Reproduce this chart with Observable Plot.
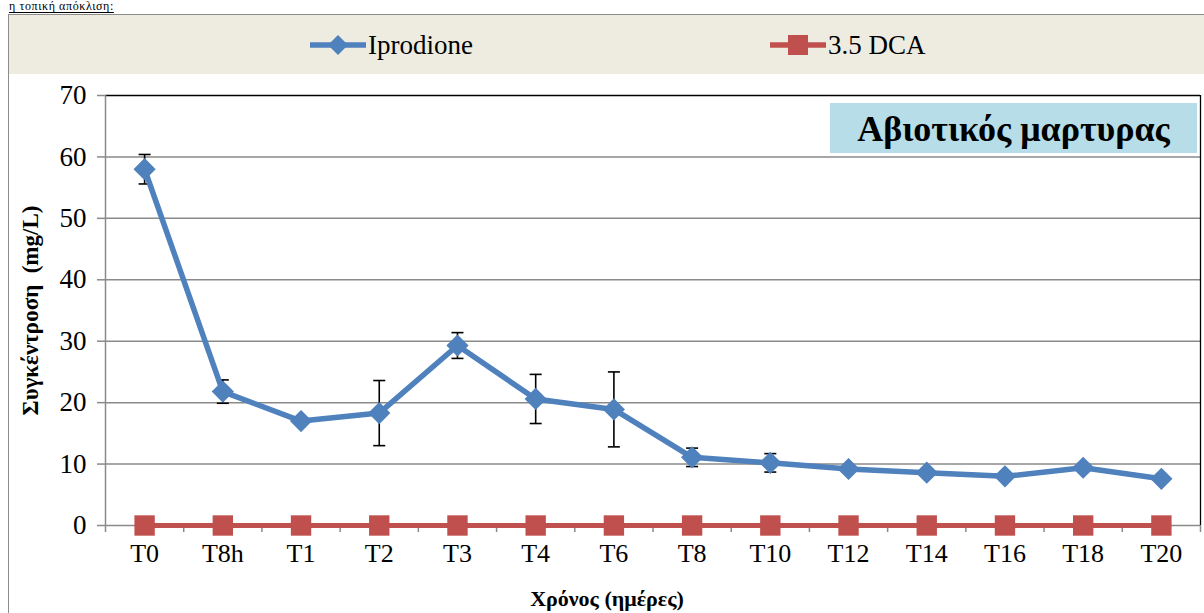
<!DOCTYPE html>
<html>
<head>
<meta charset="utf-8">
<script src="https://cdn.jsdelivr.net/npm/d3@7"></script>
<script src="https://cdn.jsdelivr.net/npm/@observablehq/plot@0.6"></script>
<style>
  html, body { margin: 0; padding: 0; background: #fff; }
  body { width: 1204px; height: 613px; overflow: hidden; position: relative; }
  #frame { position: absolute; left: 8px; top: 14px; width: 1210px; height: 620px; border: 1px solid #8c8c8c; box-sizing: border-box; }
  #legend { position: absolute; left: 9px; top: 15px; width: 1200px; height: 59px; background: #EEECE1; }
  #chart { position: absolute; left: 9px; top: 75px; }
  svg text { font-family: "Liberation Serif", "Times New Roman", Times, serif; }
</style>
</head>
<body>
<svg id="note" width="300" height="14" style="position:absolute;left:0;top:0">
  <text x="9" y="10" font-size="12" letter-spacing="0.6" text-decoration="underline" fill="#000">η τοπική απόκλιση:</text>
  <line x1="9" x2="150" y1="12.5" y2="12.5" stroke="#000" stroke-width="1" id="noteline"/>
</svg>
<div id="frame"></div>
<div id="legend"></div>
<div id="chart"></div>
<svg id="title" width="367" height="50" style="position:absolute;left:830px;top:103px">
  <rect x="0" y="0" width="367" height="50" fill="#B7DDE8"/>
  <text x="183.5" y="25" dy="0.35em" text-anchor="middle" font-weight="bold" font-size="36" fill="#000">Αβιοτικός μαρτυρας</text>
</svg>
<script>
const categories = ["T0","T8h","T1","T2","T3","T4","T6","T8","T10","T12","T14","T16","T18","T20"];
const iprodione = [58.0, 21.8, 17.0, 18.3, 29.3, 20.6, 18.9, 11.1, 10.2, 9.2, 8.6, 8.0, 9.4, 7.6];
const iprodioneErr = [2.4, 1.9, 0, 5.3, 2.1, 4.0, 6.1, 1.5, 1.5, 0, 0, 0, 0, 0];
const dca = [0, 0, 0, 0, 0, 0, 0, 0, 0, 0, 0, 0, 0, 0];
const yTicks = [0, 10, 20, 30, 40, 50, 60, 70];
const seriesNames = ["Iprodione", "3.5 DCA"];
const seriesColors = ["#4F81BD", "#C0504D"];
const xTitle = "Χρόνος (ημέρες)";
const yTitle = "Συγκέντροση  (mg/L)";

const rows = categories.map((c, i) => ({i, c, ip: iprodione[i], err: iprodioneErr[i], dca: dca[i]}));
const withErr = rows.filter(d => d.err > 0);
const idx = categories.map((c, i) => i);
const halfs = [-0.5, ...idx.map(i => i + 0.5)];
const cap = {draw(ctx) { ctx.moveTo(-6, 0); ctx.lineTo(6, 0); }};
const grid = "#8a8a8a";
const serif = "'Liberation Serif', 'Times New Roman', Times, serif";

// underline length for note
const noteText = document.querySelector("#note text");
try { document.getElementById("noteline").setAttribute("x2", 9 + noteText.getComputedTextLength()); } catch (e) {}
noteText.removeAttribute("text-decoration");

const plot = Plot.plot({
  width: 1195,
  height: 538,
  marginLeft: 96,
  marginTop: 20,
  marginRight: 4,
  marginBottom: 88,
  x: {type: "linear", domain: [-0.5, categories.length - 0.5]},
  y: {domain: [0, 70]},
  style: {fontFamily: serif, background: "transparent", color: "#000", overflow: "visible"},
  marks: [
    Plot.ruleY(yTicks.filter(t => t > 0 && t < 70), {stroke: grid, strokeWidth: 1.5}),
    Plot.ruleY([70], {stroke: "#000", strokeWidth: 1.3}),
    Plot.ruleX([categories.length - 0.5], {stroke: "#000", strokeWidth: 1.3}),
    Plot.ruleX([-0.5], {stroke: grid, strokeWidth: 1.5}),
    Plot.ruleY([0], {stroke: grid, strokeWidth: 1.5}),
    Plot.axisY(yTicks, {tickSize: 8, tickPadding: 11, stroke: grid, strokeWidth: 1.5, fill: "#000", fontSize: 27, label: null, tickFormat: d => d}),
    Plot.axisX(halfs, {tickSize: 7, stroke: grid, strokeWidth: 1.5, fill: "none", label: null}),
    Plot.axisX(idx, {tickSize: 0, tickPadding: 18, fill: "#000", fontSize: 26, label: null, tickFormat: i => categories[i]}),
    Plot.text([xTitle], {text: d => d, frameAnchor: "bottom", textAnchor: "middle", dx: -46, dy: 80, fontWeight: "bold", fontSize: 22, fill: "#000"}),
    Plot.text([yTitle], {text: d => d, frameAnchor: "left", textAnchor: "middle", dx: -75, rotate: -90, fontWeight: "bold", fontSize: 23, fill: "#000"}),
    Plot.ruleX(withErr, {x: "i", y1: d => d.ip - d.err, y2: d => d.ip + d.err, stroke: "#000", strokeWidth: 1.6}),
    Plot.dot(withErr, {x: "i", y: d => d.ip + d.err, symbol: cap, stroke: "#000", fill: "none", strokeWidth: 1.6}),
    Plot.dot(withErr, {x: "i", y: d => d.ip - d.err, symbol: cap, stroke: "#000", fill: "none", strokeWidth: 1.6}),
    Plot.line(rows, {x: "i", y: "dca", stroke: seriesColors[1], strokeWidth: 5}),
    Plot.dot(rows, {x: "i", y: "dca", symbol: "square", r: 11.5, fill: seriesColors[1], stroke: "none"}),
    Plot.line(rows, {x: "i", y: "ip", stroke: seriesColors[0], strokeWidth: 5.5}),
    Plot.dot(rows, {x: "i", y: "ip", symbol: "diamond2", r: 10, fill: seriesColors[0], stroke: "none"})
  ]
});
document.getElementById("chart").appendChild(plot);

// Legend (SVG)
const ns = "http://www.w3.org/2000/svg";
const lsvg = document.createElementNS(ns, "svg");
lsvg.setAttribute("width", 1200); lsvg.setAttribute("height", 59);
const legendPos = [300, 760];
seriesNames.forEach((name, k) => {
  const g = document.createElementNS(ns, "g");
  g.setAttribute("transform", `translate(${legendPos[k]},30)`);
  const ln = document.createElementNS(ns, "line");
  ln.setAttribute("x1", 1); ln.setAttribute("x2", 57); ln.setAttribute("y1", 0); ln.setAttribute("y2", 0);
  ln.setAttribute("stroke", seriesColors[k]); ln.setAttribute("stroke-width", 5.5);
  g.appendChild(ln);
  const m = document.createElementNS(ns, "path");
  m.setAttribute("d", k === 0 ? "M29,-10L39,0L29,10L19,0Z" : "M19,-10H39V10H19Z");
  m.setAttribute("fill", seriesColors[k]);
  g.appendChild(m);
  const t = document.createElementNS(ns, "text");
  t.setAttribute("x", 59); t.setAttribute("y", 0); t.setAttribute("dy", "0.35em");
  t.setAttribute("font-size", 27); t.setAttribute("fill", "#000");
  t.textContent = name;
  g.appendChild(t);
  lsvg.appendChild(g);
});
document.getElementById("legend").appendChild(lsvg);
</script>
</body>
</html>
